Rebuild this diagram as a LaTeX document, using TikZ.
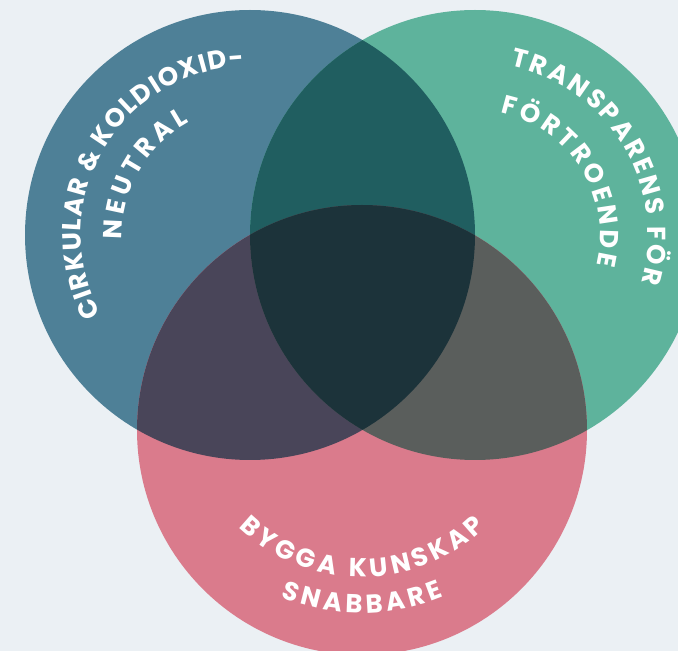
\documentclass[tikz,border=0pt]{standalone}
\usepackage{fontspec}
\newfontfamily\vennfont{Poppins}
\newcommand\arcfont{\vennfont\bfseries\fontsize{26}{30}\selectfont}
\usetikzlibrary{decorations.text}
\definecolor{bgcol}{HTML}{EBF0F4}
\definecolor{blueset}{HTML}{4E8097}
\definecolor{greenset}{HTML}{5EB39C}
\definecolor{pinkset}{HTML}{DA7B8C}
\definecolor{bluegreen}{HTML}{205E60}
\definecolor{bluepink}{HTML}{494559}
\definecolor{greenpink}{HTML}{5A5E5C}
\definecolor{allthree}{HTML}{1C333A}
\tikzset{
  arcsep/.store in=\arcsep, arcsep=2pt,
  arctext/.style={decorate,decoration={text effects along path,text align=center,
    text={#1},text effects/.cd,text along path,
    characters={font=\arcfont,text=white,inner xsep=\arcsep,inner ysep=0pt,anchor=base},
    character widths={font=\arcfont,inner xsep=\arcsep,inner ysep=0pt}}},
}
\begin{document}
\begin{tikzpicture}[x=1pt,y=1pt]
            \fill[bgcol](0,0)rectangle(678,651);
            \useasboundingbox(0,0)rectangle(678,651);
            \coordinate(b)at(250,416);
            \coordinate(g)at(475,416);
            \coordinate(p)at(362,221);
            \coordinate(pt)at(362,251);
            % the three sets
            \fill[blueset](b)circle(225);
            \fill[greenset](g)circle(225);
            \fill[pinkset](p)circle(225);
            % overlaps
            \begin{scope}
                \clip(b)circle(225);
                \fill[bluegreen](g)circle(225);
                \fill[bluepink](p)circle(225);
            \end{scope}
            \begin{scope}
                \clip(g)circle(225);
                \fill[greenpink](p)circle(225);
            \end{scope}
            \begin{scope}
                \clip(b)circle(225);
                \clip(g)circle(225);
                \fill[allthree](p)circle(225);
            \end{scope}
            % labels
            \path[shift={(b)},arcsep=0.6pt,arctext={CIRKULAR {\&} KOLDIOXID-}](240:169)arc[start angle=240,end angle=60,radius=169];
            \path[shift={(b)},arcsep=2.2pt,arctext={NEUTRAL}](240:128)arc[start angle=240,end angle=60,radius=128];
            \path[shift={(g)},arcsep=1.4pt,arctext={TRANSPARENS FÖR}](121:173)arc[start angle=121,end angle=-59,radius=173];
            \path[shift={(g)},arcsep=1.7pt,arctext={FÖRTROENDE}](122:125)arc[start angle=122,end angle=-58,radius=125];
            \path[shift={(pt)},arcsep=2pt,arctext={BYGGA KUNSKAP}](180:177)arc[start angle=180,end angle=360,radius=177];
            \path[shift={(pt)},arcsep=2pt,arctext={SNABBARE}](180:213)arc[start angle=180,end angle=360,radius=213];
        \end{tikzpicture}
\end{document}
